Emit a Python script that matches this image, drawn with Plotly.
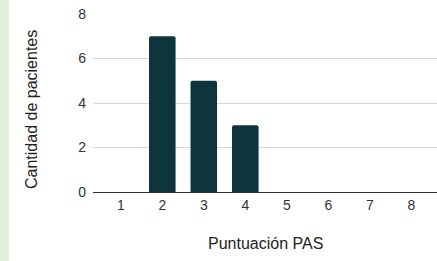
import plotly.graph_objects as go

categories = [1, 2, 3, 4, 5, 6, 7, 8]
patients = [0, 7, 5, 3, 0, 0, 0, 0]
y_ticks = [0, 2, 4, 6, 8]

W, H = 437, 261
L, R, T, B = 93, 0, 14, 69
pw = W - L - R
ph = H - T - B

fig = go.Figure(go.Bar(
    x=categories, y=patients,
    marker=dict(color="#0e353c", cornerradius=2, line=dict(width=0)),
    width=0.64,
))

def px_x(p):
    return (p - L) / pw

def px_y(p):
    return (H - B - p) / ph

fig.update_layout(
    width=W, height=H,
    margin=dict(l=L, r=R, t=T, b=B),
    plot_bgcolor="white", paper_bgcolor="white",
    showlegend=False,
    font=dict(family="Liberation Sans, Arial, sans-serif", size=14, color="#333333"),
    xaxis=dict(
        range=[0.33, 8.62], tickvals=categories, ticktext=[str(c) for c in categories],
        showgrid=False, zeroline=False, showline=True, linecolor="#333333", linewidth=1,
        ticks="", tickfont=dict(size=14, color="#333333"),
        automargin=False,
    ),
    yaxis=dict(
        range=[0, 8], tickvals=y_ticks, showgrid=True, gridcolor="#d9d9d9", gridwidth=1,
        zeroline=False, showline=False, ticks="", ticklabelstandoff=6,
        tickfont=dict(size=14, color="#333333"),
        automargin=False,
    ),
    annotations=[
        dict(text="Puntuación PAS", xref="paper", yref="paper",
             x=px_x(265), y=px_y(243), xanchor="center", yanchor="middle",
             showarrow=False, font=dict(size=16, color="#222222")),
        dict(text="Cantidad de pacientes", xref="paper", yref="paper",
             x=px_x(31), y=px_y(110), xanchor="center", yanchor="middle",
             textangle=-90, showarrow=False, font=dict(size=16, color="#222222")),
    ],
    shapes=[dict(
        type="rect", xref="paper", yref="paper", layer="below",
        x0=px_x(0), x1=px_x(9), y0=px_y(H + 10), y1=px_y(-10),
        fillcolor="#e3efdb", line=dict(width=0),
    )],
)

fig.write_html(
    "out.html",
    config={"displayModeBar": False},
    post_script="document.body.style.margin='0';document.body.style.overflow='hidden';",
)
